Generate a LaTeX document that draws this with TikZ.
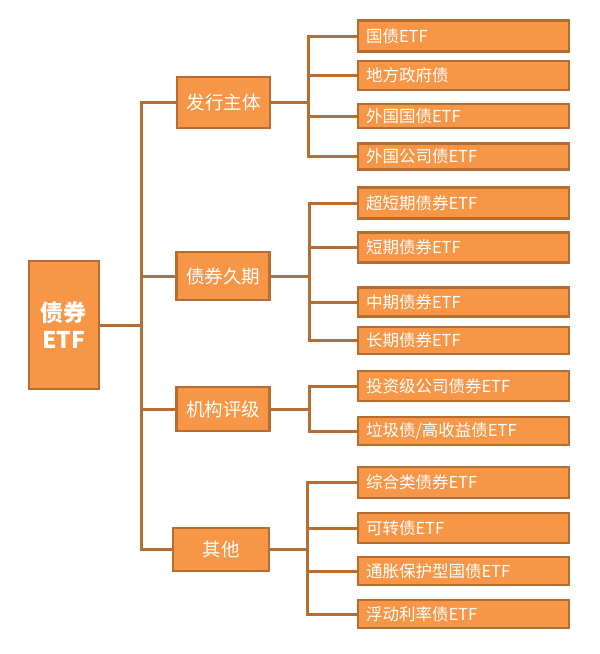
\documentclass[tikz,border=0pt]{standalone}
\usepackage{fontspec}
\newfontfamily\cjk{Noto Sans CJK SC}
\definecolor{boxfill}{HTML}{F79646}
\definecolor{boxline}{HTML}{B66D31}
\tikzset{
  base/.style={draw=boxline, fill=boxfill, line width=2.8pt, text=white, inner sep=0pt, font=\cjk},
  rootbox/.style={base, minimum width=70pt, minimum height=128pt, align=center, font=\cjk\bfseries\fontsize{23}{27}\selectfont},
  midbox/.style={base, minimum width=93pt, font=\cjk\fontsize{18.5}{21}\selectfont},
  leafbox/.style={base, minimum width=211pt, text width=195pt, align=left, font=\cjk\fontsize{16.5}{19}\selectfont},
  link/.style={draw=boxline, line width=3pt, line cap=rect}
}
\begin{document}
\begin{tikzpicture}[x=1pt,y=-1pt]
\useasboundingbox (0,0) rectangle (600,654);
% links first so boxes cover the ends
\coordinate (t0) at (141,0);
\coordinate (ta) at (308,0);
\coordinate (tb) at (309,0);
\coordinate (tc) at (309,0);
\coordinate (td) at (307,0);
% root
\node[rootbox] (root) at (64,325) {债券\\ETF};
% level 1
\node[midbox, minimum height=51pt] (a) at (223.5,102.5) {发行主体};
\node[midbox, minimum height=48pt] (b) at (223,276) {债券久期};
\node[midbox, minimum height=44pt] (c) at (223,409) {机构评级};
\node[midbox, minimum width=96pt, minimum height=43pt] (d) at (221,549.5) {其他};
% leaves group a
\node[leafbox, minimum height=31pt] (a1) at (463.5,36) {国债ETF};
\node[leafbox, minimum height=29pt] (a2) at (463.5,75.5) {地方政府债};
\node[leafbox, minimum height=24pt] (a3) at (463.5,116) {外国国债ETF};
\node[leafbox, minimum height=26pt] (a4) at (463.5,156.5) {外国公司债ETF};
% leaves group b
\node[leafbox, minimum height=31pt] (b1) at (463.5,203) {超短期债券ETF};
\node[leafbox, minimum height=30pt] (b2) at (463.5,247.5) {短期债券ETF};
\node[leafbox, minimum height=29pt] (b3) at (463.5,302) {中期债券ETF};
\node[leafbox, minimum height=27pt] (b4) at (463.5,340.5) {长期债券ETF};
% leaves group c
\node[leafbox, minimum height=30pt] (c1) at (463.5,386) {投资级公司债券ETF};
\node[leafbox, minimum height=28pt] (c2) at (463.5,431) {垃圾债/高收益债ETF};
% leaves group d
\node[leafbox, minimum height=31pt] (d1) at (463.5,482.5) {综合类债券ETF};
\node[leafbox, minimum height=30pt] (d2) at (463.5,528) {可转债ETF};
\node[leafbox, minimum height=28pt] (d3) at (463.5,571) {通胀保护型国债ETF};
\node[leafbox, minimum height=28pt] (d4) at (463.5,614) {浮动利率债ETF};
\begin{scope}[on background layer/.try]
\end{scope}
% main trunk
\draw[link] (root.east) -- (root.east -| t0);
\draw[link] (a.west -| t0) -- (d.west -| t0);
\foreach \n in {a,b,c,d} \draw[link] (\n.west -| t0) -- (\n.west);
% group a
\draw[link] (a.east) -- (a.east -| ta);
\draw[link] (a1.west -| ta) -- (a4.west -| ta);
\foreach \n in {a1,a2,a3,a4} \draw[link] (\n.west -| ta) -- (\n.west);
% group b
\draw[link] (b.east) -- (b.east -| tb);
\draw[link] (b1.west -| tb) -- (b4.west -| tb);
\foreach \n in {b1,b2,b3,b4} \draw[link] (\n.west -| tb) -- (\n.west);
% group c
\draw[link] (c.east) -- (c.east -| tc);
\draw[link] (c1.west -| tc) -- (c2.west -| tc);
\foreach \n in {c1,c2} \draw[link] (\n.west -| tc) -- (\n.west);
% group d
\draw[link] (d.east) -- (d.east -| td);
\draw[link] (d1.west -| td) -- (d4.west -| td);
\foreach \n in {d1,d2,d3,d4} \draw[link] (\n.west -| td) -- (\n.west);
\end{tikzpicture}
\end{document}
